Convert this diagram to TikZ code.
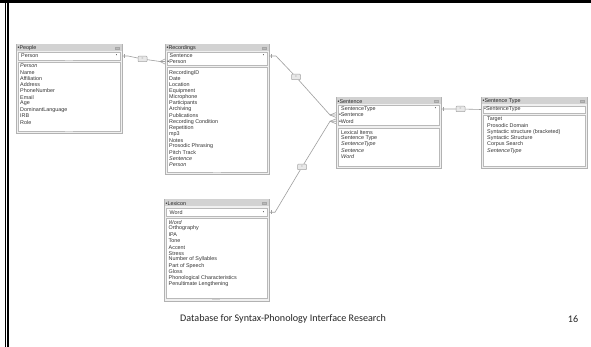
\documentclass[tikz,border=0pt]{standalone}
\usepackage{fontspec}
\setmainfont{Liberation Sans}
\newfontfamily\calib{Carlito}
\begin{document}
\begin{tikzpicture}[x=1pt,y=-1pt,
 shadowbox/.style={fill=gray!45, anchor=north west, inner sep=0pt, outer sep=0pt},
 tbl/.style={draw=gray!60, fill=gray!12, line width=0.9pt, anchor=north west, inner sep=0pt, outer sep=0pt},
 ttl/.style={fill=gray!35, anchor=north west, inner sep=0pt, outer sep=0pt},
 inbox/.style={draw=gray!55, fill=white, line width=0.5pt, anchor=north west, inner sep=0pt, outer sep=0pt},
 fld/.style={anchor=west, inner sep=0pt, font=\fontsize{5.4}{6}\selectfont, text=black!80},
 hdr/.style={anchor=west, inner sep=0pt, font=\fontsize{5.4}{6}\selectfont, text=black!85},
 dd/.style={inner sep=0pt, font=\fontsize{4}{4}\selectfont, text=black!80},
 icon/.style={draw=gray!70, fill=gray!55, minimum width=3.5pt, minimum height=2.5pt, inner sep=0pt},
 op/.style={draw=gray!70, fill=gray!18, rounded corners=0.8pt, minimum width=9pt, minimum height=5.5pt, inner sep=0pt, line width=0.5pt, font=\fontsize{3}{3}\selectfont, text=gray},
 conn/.style={draw=gray!75, line width=0.6pt},
 grip/.style={draw=gray!35, line width=0.5pt},
 foot/.style={inner sep=0pt, font=\calib\fontsize{10.1}{12}\selectfont, text=black!85},
 ]
\useasboundingbox (0,0) rectangle (591,347);
\fill[white] (0,0) rectangle (591,347);
% frame
\fill[black] (0,0) rectangle (591,3.4);
\fill[black] (5,0) rectangle (6.3,347);
\fill[black] (7.4,0) rectangle (9,347);

% ================= People
\node[shadowbox, minimum width=106pt, minimum height=89pt] (peopleS) at (17,45) {};
\node[tbl, minimum width=106pt, minimum height=89pt] (people) at (16,44) {};
\node[ttl, minimum width=105pt, minimum height=7pt] (peopleT) at (16.5,44.5) {};
\node[hdr] (peopleH) at (17.5,48.2) {•People};
\node[icon] (peopleI) at (117,48.2) {};
\node[inbox, minimum width=102pt, minimum height=8pt] (peopleK) at (18,52) {};
\node[fld] (peopleK1) at (21,56) {Person};
\node[dd] (peopleD) at (116.5,56) {•};
\node[inbox, minimum width=102pt, minimum height=69pt] (peopleF) at (18,62) {};
\foreach \t [count=\i from 0] in {{\textit{Person}},Name,Affiliation,Address,PhoneNumber,Email,Age,DominantLanguage,IRB,Role}
  \node[fld] (peopleF\i) at (20,66+6.25*\i) {\t};
\draw[grip] (65,60.6) -- (73,60.6);
\draw[grip] (65,131.6) -- (73,131.6);

% ================= Recordings
\node[shadowbox, minimum width=104pt, minimum height=130pt] (recS) at (166,45) {};
\node[tbl, minimum width=104pt, minimum height=130pt] (rec) at (165,44) {};
\node[ttl, minimum width=103pt, minimum height=7pt] (recT) at (165.5,44.5) {};
\node[hdr] (recH) at (166.5,48.2) {•Recordings};
\node[icon] (recI) at (264,48.2) {};
\node[inbox, minimum width=100pt, minimum height=13pt] (recK) at (167,52.5) {};
\node[fld] (recK1) at (169.5,56) {Sentence};
\node[fld] (recK2) at (167.2,61.5) {•Person};
\node[dd] (recD) at (263.5,56) {•};
\node[inbox, minimum width=100pt, minimum height=105pt] (recF) at (167,67.5) {};
\foreach \t [count=\i from 0] in {RecordingID,Date,Location,Equipment,Microphone,Participants,Archiving,Publications,Recording Condition,Repetition,mp3,Notes,Prosodic Phrasing,Pitch Track,{\textit{Sentence}},{\textit{Person}}}
  \node[fld] (recF\i) at (169,72.7+6.15*\i) {\t};
\draw[grip] (213,172.6) -- (221,172.6);

% ================= Lexicon
\node[shadowbox, minimum width=105pt, minimum height=102pt] (lexS) at (165,200) {};
\node[tbl, minimum width=105pt, minimum height=102pt] (lex) at (164,199) {};
\node[ttl, minimum width=104pt, minimum height=7pt] (lexT) at (164.5,199.5) {};
\node[hdr] (lexH) at (165.5,203.2) {•Lexicon};
\node[icon] (lexI) at (264,203.2) {};
\node[inbox, minimum width=101pt, minimum height=8.5pt] (lexK) at (166,208) {};
\node[fld] (lexK1) at (169.5,212.3) {Word};
\node[dd] (lexD) at (263.5,212.3) {•};
\node[inbox, minimum width=101pt, minimum height=80pt] (lexF) at (166,218.5) {};
\foreach \t [count=\i from 0] in {{\textit{Word}},Orthography,IPA,Tone,Accent,Stress,Number of Syllables,Part of Speech,Gloss,Phonological Characteristics,Penultimate Lengthening}
  \node[fld] (lexF\i) at (168.5,222.4+6.2*\i) {\t};
\draw[grip] (212,299.4) -- (220,299.4);

% ================= Sentence
\node[shadowbox, minimum width=105pt, minimum height=71pt] (senS) at (337,98) {};
\node[tbl, minimum width=105pt, minimum height=71pt] (sen) at (336,97) {};
\node[ttl, minimum width=104pt, minimum height=7pt] (senT) at (336.5,97.5) {};
\node[hdr] (senH) at (337.5,101.2) {•Sentence};
\node[icon] (senI) at (436,101.2) {};
\node[inbox, minimum width=101pt, minimum height=20.5pt] (senK) at (338,105.2) {};
\node[fld] (senK1) at (341,109) {SentenceType};
\node[fld] (senK2) at (338.8,115) {•Sentence};
\node[fld] (senK3) at (338.8,121.3) {•Word};
\node[dd] (senD) at (435.5,109) {•};
\node[inbox, minimum width=101pt, minimum height=38pt] (senF) at (338,128) {};
\foreach \t [count=\i from 0] in {Lexical Items,Sentence Type,{\textit{SentenceType}},{\textit{Sentence}},{\textit{Word}}}
  \node[fld] (senF\i) at (341,132.3+6.1*\i) {\t};

% ================= Sentence Type
\node[shadowbox, minimum width=106pt, minimum height=71pt] (stS) at (482,98) {};
\node[tbl, minimum width=106pt, minimum height=71pt] (st) at (481,97) {};
\node[ttl, minimum width=105pt, minimum height=7pt] (stT) at (481.5,97.5) {};
\node[hdr] (stH) at (482.5,101.2) {•Sentence Type};
\node[icon] (stI) at (582,101.2) {};
\node[inbox, minimum width=102pt, minimum height=7.5pt] (stK) at (483,105.8) {};
\node[fld] (stK1) at (484,109.5) {•SentenceType};
\node[inbox, minimum width=102pt, minimum height=50.5pt] (stF) at (483,115.5) {};
\foreach \t [count=\i from 0] in {Target,Prosodic Domain,Syntactic structure (bracketed),Syntactic Structure,Corpus Search,{\textit{SentenceType}}}
  \node[fld] (stF\i) at (487,119.7+6.2*\i) {\t};

% ================= relationship operators
\node[op] (op1) at (142.5,59) {=};
\node[op] (op2) at (296,77) {=};
\node[op] (op3) at (302,167) {=};
\node[op] (op4) at (460.5,109) {=};

% ================= connectors
\coordinate (a1) at (128,56);
\coordinate (b1) at (160,61.5);
\draw[conn] (people.east |- peopleK1) -- (a1) -- (op1) -- (b1) -- (rec.west |- recK2);
\draw[conn] (124.5,54.2) -- (124.5,57.8);
\draw[conn] (b1) -- (rec.west |- 0,59);
\draw[conn] (b1) -- (rec.west |- 0,64);

\coordinate (a2) at (276,56);
\coordinate (b2) at (330,115);
\draw[conn] (rec.east |- recK1) -- (a2) -- (op2) -- (b2) -- (sen.west |- senK2);
\draw[conn] (271.5,54.2) -- (271.5,57.8);
\draw[conn] (b2) -- (sen.west |- 0,112.6);
\draw[conn] (b2) -- (sen.west |- 0,117.4);

\coordinate (a3) at (275,212.3);
\coordinate (b3) at (330,121.3);
\draw[conn] (lex.east |- lexK1) -- (a3) -- (op3) -- (b3) -- (sen.west |- senK3);
\draw[conn] (271.5,210.5) -- (271.5,214.1);
\draw[conn] (b3) -- (sen.west |- 0,118.9);
\draw[conn] (b3) -- (sen.west |- 0,123.7);

\coordinate (a4) at (447,109);
\draw[conn] (sen.east |- senK1) -- (a4) -- (op4) -- (st.west |- stK1);
\draw[conn] (443.5,107.2) -- (443.5,110.8);

% ================= footer
\node[foot, anchor=west] (footer) at (180,319) {Database for Syntax-Phonology Interface Research};
\node[foot] (pageno) at (573,319) {16};
\end{tikzpicture}
\end{document}
